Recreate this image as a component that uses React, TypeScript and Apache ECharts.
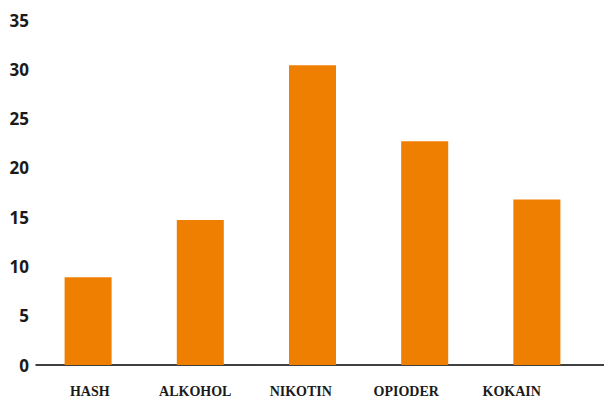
import React, { useEffect, useRef } from "react";
import * as echarts from "echarts";

const categories = ["HASH", "ALKOHOL", "NIKOTIN", "OPIODER", "KOKAIN"];
const values = [8.9, 14.7, 30.4, 22.7, 16.8];
const yMin = 0;
const yMax = 35;
const yInterval = 5;

export default function App() {
  const ref = useRef<HTMLDivElement>(null);
  useEffect(() => {
    if (!ref.current) return;
    const chart = echarts.init(ref.current, null, { renderer: "svg" });
    const common = { top: 20, bottom: 33 };
    chart.setOption({
      animation: false,
      backgroundColor: "#ffffff",
      grid: [
        { ...common, left: 32, right: 11 },
        { ...common, left: 37, width: 527.5 },
        { ...common, left: 36, right: 0 },
      ],
      xAxis: [
        {
          type: "category",
          gridIndex: 0,
          data: categories,
          axisLine: { show: false },
          axisTick: { show: false },
          axisLabel: { show: false },
        },
        {
          type: "category",
          gridIndex: 1,
          data: categories,
          axisLine: { show: false },
          axisTick: { show: false },
          axisLabel: {
            margin: 19,
            fontFamily: "Liberation Serif",
            fontWeight: "bold",
            fontSize: 14,
            color: "#1a1a1a",
          },
        },
        {
          type: "value",
          gridIndex: 2,
          min: 0,
          max: 1,
          axisLine: { show: true, lineStyle: { color: "#000000", width: 1.5 } },
          axisTick: { show: false },
          axisLabel: { show: false },
          splitLine: { show: false },
        },
      ],
      yAxis: [
        {
          type: "value",
          gridIndex: 0,
          min: yMin,
          max: yMax,
          interval: yInterval,
          axisLine: { show: false },
          axisTick: { show: false },
          splitLine: { show: false },
          axisLabel: {
            margin: 3,
            fontFamily: "Open Sans",
            fontWeight: "bold",
            fontSize: 17,
            color: "#1a1a1a",
          },
        },
        { type: "value", gridIndex: 1, show: false, min: yMin, max: yMax },
        { type: "value", gridIndex: 2, show: false, min: yMin, max: yMax },
      ],
      series: [
        {
          type: "bar",
          xAxisIndex: 0,
          yAxisIndex: 0,
          data: values,
          barWidth: 47,
          itemStyle: { color: "#EF7F00" },
        },
      ],
    });
    return () => chart.dispose();
  }, []);
  return <div ref={ref} style={{ width: 604, height: 398, position: "absolute", left: 0, top: 0 }} />;
}
